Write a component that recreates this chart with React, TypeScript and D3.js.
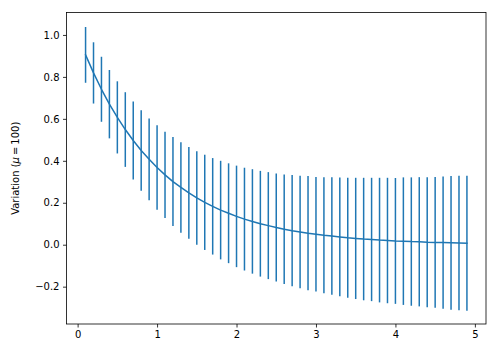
import React, { useEffect, useRef } from 'react';
import * as d3 from 'd3';

// x positions (0.1 .. 4.9)
const xVals: number[] = [
  0.1, 0.2, 0.3, 0.4, 0.5, 0.6, 0.7, 0.8, 0.9, 1.0,
  1.1, 1.2, 1.3, 1.4, 1.5, 1.6, 1.7, 1.8, 1.9, 2.0,
  2.1, 2.2, 2.3, 2.4, 2.5, 2.6, 2.7, 2.8, 2.9, 3.0,
  3.1, 3.2, 3.3, 3.4, 3.5, 3.6, 3.7, 3.8, 3.9, 4.0,
  4.1, 4.2, 4.3, 4.4, 4.5, 4.6, 4.7, 4.8, 4.9,
];

// mean variation
const yVals: number[] = [
  0.905, 0.819, 0.741, 0.67, 0.607, 0.549, 0.497, 0.449, 0.407, 0.368,
  0.333, 0.301, 0.273, 0.247, 0.223, 0.202, 0.183, 0.165, 0.15, 0.135,
  0.122, 0.111, 0.1, 0.091, 0.082, 0.074, 0.067, 0.061, 0.055, 0.05,
  0.045, 0.041, 0.037, 0.033, 0.03, 0.027, 0.025, 0.022, 0.02, 0.018,
  0.017, 0.015, 0.014, 0.012, 0.011, 0.01, 0.009, 0.008, 0.007,
];

// symmetric error half-widths
const yErr: number[] = [
  0.133, 0.146, 0.155, 0.163, 0.172, 0.178, 0.186, 0.192, 0.195, 0.201,
  0.206, 0.212, 0.216, 0.219, 0.223, 0.227, 0.23, 0.235, 0.238, 0.242,
  0.245, 0.249, 0.252, 0.255, 0.257, 0.261, 0.265, 0.268, 0.272, 0.273,
  0.277, 0.28, 0.283, 0.286, 0.289, 0.292, 0.294, 0.297, 0.299, 0.3,
  0.304, 0.306, 0.308, 0.31, 0.312, 0.315, 0.319, 0.321, 0.322,
];

const xTicks: number[] = [0, 1, 2, 3, 4, 5];
const yTicks: number[] = [-0.2, 0.0, 0.2, 0.4, 0.6, 0.8, 1.0];

const color = '#1f77b4';
const font = 'DejaVu Sans, sans-serif';

const App: React.FC = () => {
  const ref = useRef<SVGSVGElement>(null);
  const width = 500;
  const height = 351;

  useEffect(() => {
    const margin = { top: 12.5, right: 14, bottom: 27, left: 66.5 };
    const innerW = width - margin.left - margin.right;
    const innerH = height - margin.top - margin.bottom;

    const xScale = d3.scaleLinear().domain([-0.14, 5.14]).range([0, innerW]);
    const yScale = d3.scaleLinear().domain([-0.378, 1.107]).range([innerH, 0]);

    const svg = d3
      .select(ref.current)
      .attr('width', width)
      .attr('height', height)
      .append('g')
      .attr('transform', `translate(${margin.left},${margin.top})`);

    const data = xVals.map((x, i) => ({ x, y: yVals[i], e: yErr[i] }));

    // error bars
    svg
      .selectAll('line.err')
      .data(data)
      .enter()
      .append('line')
      .attr('class', 'err')
      .attr('x1', (d) => xScale(d.x))
      .attr('x2', (d) => xScale(d.x))
      .attr('y1', (d) => yScale(d.y - d.e))
      .attr('y2', (d) => yScale(d.y + d.e))
      .attr('stroke', color)
      .attr('stroke-width', 1.5);

    // mean line
    const line = d3
      .line<{ x: number; y: number }>()
      .x((d) => xScale(d.x))
      .y((d) => yScale(d.y));

    svg
      .append('path')
      .datum(data)
      .attr('d', line)
      .attr('fill', 'none')
      .attr('stroke', color)
      .attr('stroke-width', 1.5)
      .attr('stroke-linejoin', 'round')
      .attr('stroke-linecap', 'square');

    const fmtY = (d: number) => d3.format('.1f')(d).replace('-', '\u2212');

    const xAxis = d3
      .axisBottom(xScale)
      .tickValues(xTicks)
      .tickFormat((d) => d3.format('d')(d as number))
      .tickSize(3.5)
      .tickPadding(3.5);
    const yAxis = d3
      .axisLeft(yScale)
      .tickValues(yTicks)
      .tickFormat((d) => fmtY(d as number))
      .tickSize(3.5)
      .tickPadding(3.5);

    const gx = svg.append('g').attr('transform', `translate(0,${innerH})`).call(xAxis);
    const gy = svg.append('g').call(yAxis);

    [gx, gy].forEach((g) => {
      g.select('.domain').remove();
      g.selectAll('.tick line').attr('stroke', '#000').attr('stroke-width', 0.8);
      g.selectAll('.tick text')
        .attr('fill', '#000')
        .attr('font-size', '10px')
        .attr('font-family', font);
    });

    // frame
    svg
      .append('rect')
      .attr('x', 0)
      .attr('y', 0)
      .attr('width', innerW)
      .attr('height', innerH)
      .attr('fill', 'none')
      .attr('stroke', '#000')
      .attr('stroke-width', 0.8);

    // y label
    const label = svg
      .append('text')
      .attr('transform', `translate(${-margin.left + 19},${innerH / 2}) rotate(-90)`)
      .attr('text-anchor', 'middle')
      .attr('font-size', '10px')
      .attr('font-family', font)
      .attr('fill', '#000');
    label.append('tspan').text('Variation (');
    label.append('tspan').attr('font-style', 'italic').text('\u03bc');
    label.append('tspan').text('\u2009=\u2009100)');

    return () => {
      d3.select(ref.current).selectAll('*').remove();
    };
  }, []);

  return <svg ref={ref} style={{ position: 'absolute', left: 0, top: 0, background: '#fff' }} />;
};

export default App;
